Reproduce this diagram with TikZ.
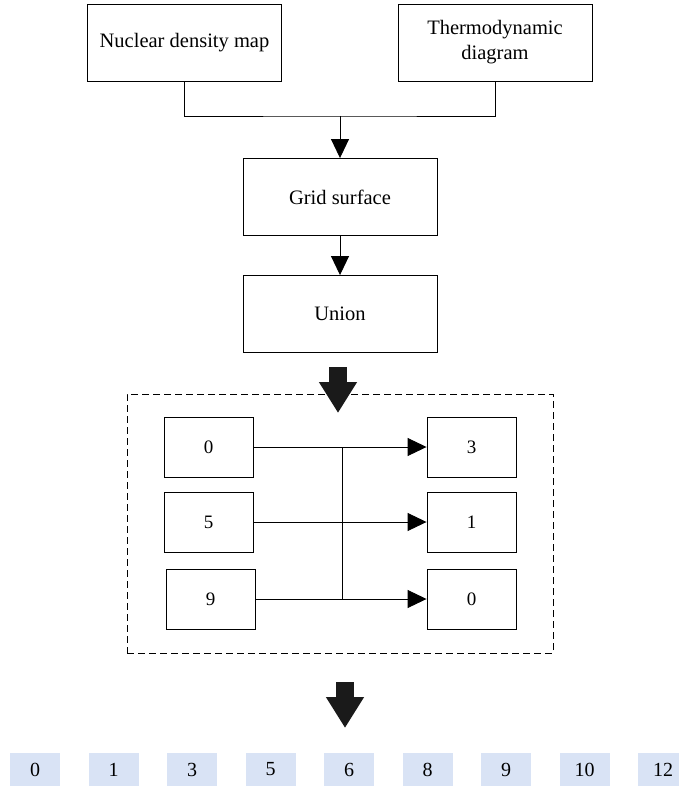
\documentclass[tikz,border=0pt]{standalone}
\usepackage{fontspec}
\setmainfont{Liberation Serif}
\usetikzlibrary{arrows.meta}
\definecolor{cellblue}{RGB}{217,227,245}
\definecolor{ink}{RGB}{26,26,26}
\begin{document}
\begin{tikzpicture}[x=1pt,y=-1pt,
    box/.style={draw,line width=0.9pt,inner sep=0pt,align=center,
      font=\fontsize{20.5}{25}\selectfont},
    small/.style={box,minimum width=89pt,minimum height=60pt,
      font=\fontsize{19}{22}\selectfont},
    cell/.style={fill=cellblue,minimum width=50pt,minimum height=34pt,
      inner sep=0pt,font=\fontsize{20}{22}\selectfont},
    arr/.style={line width=0.9pt,-{Triangle[length=19pt,width=18pt]}},
    fat/.style={draw=ink,line width=18pt,-{Triangle[length=31pt,width=36pt]}}]

  \useasboundingbox (0,0) rectangle (678,786);

  \begin{scope}[every node/.style={box,minimum width=194pt,minimum height=77pt}]
    \node (nuc)    at (184.5,42.5) {Nuclear density map};
    \node (thermo) at (495,42.5)   {Thermodynamic\\diagram};
    \node (grid)   at (340,197)    {Grid surface};
    \node (union)  at (340,314)    {Union};
  \end{scope}

  \coordinate (mid) at (340,116);
  \draw[line width=0.9pt] (nuc.south) |- (mid) -| (thermo.south);
  \draw[arr] (mid) -- (grid.north);
  \draw[arr] (grid) -- (union);

  % merge step
  \node[draw,dashed,dash pattern=on 7pt off 4pt,line width=0.9pt,
    minimum width=426pt,minimum height=259pt] (merge) at (340,523.5) {};
  \draw[fat] (338,367) -- (338,413);

  \begin{scope}[every node/.style={small}]
    \node (in0)  at (208.5,447) {0};
    \node (in5)  at (208.5,522) {5};
    \node (in9)  at (210.5,599) {9};
    \node (out3) at (471.5,447) {3};
    \node (out1) at (471.5,522) {1};
    \node (out0) at (471.5,599) {0};
  \end{scope}

  \coordinate (j1) at (342,447);
  \coordinate (j2) at (342,522);
  \coordinate (j3) at (342,599);
  \draw[line width=0.9pt] (in0) -- (j1) -- (j3);
  \draw[line width=0.9pt] (in5) -- (j2);
  \draw[line width=0.9pt] (in9) -- (j3);
  \draw[arr] (j1) -- (out3);
  \draw[arr] (j2) -- (out1);
  \draw[arr] (j3) -- (out0);

  % sorted result
  \draw[fat] (345,682) -- (345,728);
  \foreach \v [count=\i from 0] in {0,1,3,5,6,8,9,10,12}
    \node[cell] (c\i) at (35+78.5*\i,769.5) {\v};

\end{tikzpicture}
\end{document}
